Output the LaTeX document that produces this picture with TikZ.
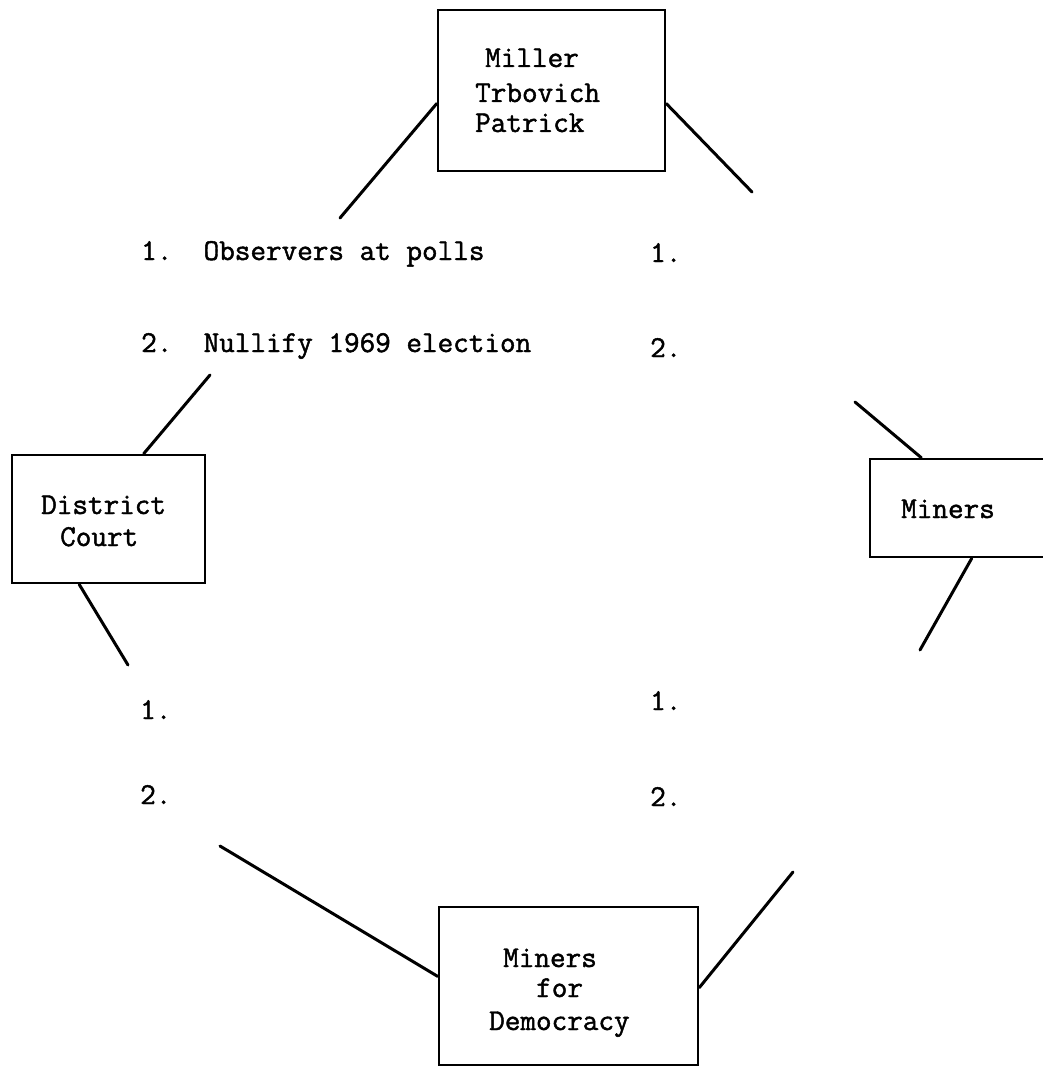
\documentclass[tikz,border=0pt]{standalone}
\usepackage{fontspec}
\newfontfamily\tw[FakeBold=1.5]{Latin Modern Mono}
\usetikzlibrary{calc}
\begin{document}
\begin{tikzpicture}[x=1pt,y=-1pt,
  box/.style={draw, line width=2.6pt, inner sep=0pt},
  txt/.style={anchor=base west, inner sep=0pt, font=\tw\fontsize{30.3}{33}\selectfont},
  conn/.style={line width=3pt, line cap=round}]
\useasboundingbox (0,0) rectangle (1042,1067);
% boxes
\node[box, minimum width=227pt, minimum height=161pt] (top) at (551.5,90.5) {};
\node[box, minimum width=193pt, minimum height=128pt] (dc) at (108.5,519) {};
\node[box, minimum width=230pt, minimum height=98pt] (mi) at (985,508) {};
\node[box, minimum width=259pt, minimum height=158pt] (bot) at (568.5,986) {};
% box texts
\node[txt] (t1) at (485,67) {Miller};
\node[txt] (t2) at (475,102) {Trbovich};
\node[txt] (t3) at (475,132) {Patrick};
\node[txt] (d1) at (41,514) {District};
\node[txt] (d2) at (60,546) {Court};
\node[txt] (m1) at (901,518) {Miners};
\node[txt] (b1) at (503,967) {Miners};
\node[txt] (b2) at (536,997) {for};
\node[txt] (b3) at (489,1030) {Democracy};
% list texts
\node[txt] (ul1) at (141,260) {1.\ \ Observers at polls};
\node[txt] (ul2) at (141,352) {2.\ \ Nullify 1969 election};
\node[txt] (ur1) at (650,262) {1.};
\node[txt] (ur2) at (650,357) {2.};
\node[txt] (ll1) at (140,719) {1.};
\node[txt] (ll2) at (140,804) {2.};
\node[txt] (lr1) at (650,710) {1.};
\node[txt] (lr2) at (650,806) {2.};
% free connector ends
\coordinate (c1) at (340,218);
\coordinate (c2) at (752,192);
\coordinate (c3) at (210,375);
\coordinate (c4) at (128,665);
\coordinate (c5) at (220,846);
\coordinate (c6) at (793,872);
\coordinate (c7) at (855,402);
\coordinate (c8) at (920,650);
% connectors
\draw[conn] ($(top.north west)!0.58!(top.south west)$) -- (c1);
\draw[conn] ($(top.north east)!0.58!(top.south east)$) -- (c2);
\draw[conn] (c3) -- ($(dc.north west)!0.68!(dc.north east)$);
\draw[conn] ($(dc.south west)!0.35!(dc.south east)$) -- (c4);
\draw[conn] (c5) -- ($(bot.north west)!0.44!(bot.south west)$);
\draw[conn] ($(bot.north east)!0.51!(bot.south east)$) -- (c6);
\draw[conn] (c7) -- ($(mi.north west)!0.226!(mi.north east)$);
\draw[conn] ($(mi.south west)!0.443!(mi.south east)$) -- (c8);
\end{tikzpicture}
\end{document}
